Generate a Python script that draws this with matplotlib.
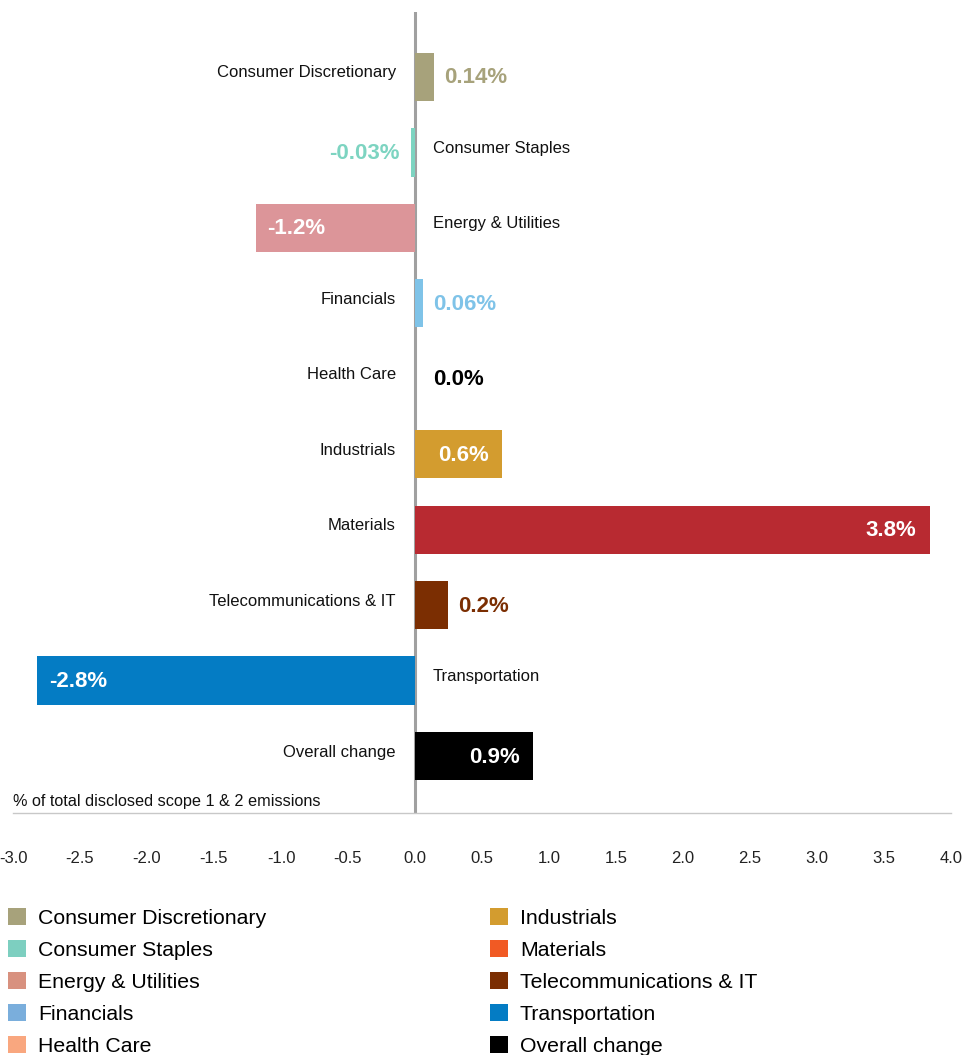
import matplotlib
matplotlib.use('Agg')
import matplotlib.pyplot as plt
from matplotlib.patches import Patch

plt.rcParams['font.family'] = ['Liberation Sans', 'DejaVu Sans']
plt.rcParams['axes.unicode_minus'] = False

# data
categories = ['Consumer Discretionary', 'Consumer Staples', 'Energy & Utilities',
              'Financials', 'Health Care', 'Industrials', 'Materials',
              'Telecommunications & IT', 'Transportation', 'Overall change']
values = [0.14, -0.03, -1.19, 0.06, 0.0, 0.65, 3.84, 0.25, -2.82, 0.88]
value_labels = ['0.14%', '-0.03%', '-1.2%', '0.06%', '0.0%', '0.6%', '3.8%',
                '0.2%', '-2.8%', '0.9%']
bar_colors = ['#a7a27b', '#7dd4c1', '#dc9599', '#7fc3e8', '#f9a77f', '#d39c2f',
              '#b82a31', '#7b2e02', '#047cc4', '#000000']
legend_colors = ['#a7a27b', '#7dcfc0', '#d8917f', '#7aaedc', '#f9a77f', '#d39c2f',
                 '#f15a24', '#7b2e02', '#047cc4', '#000000']
xticks = [-3.0, -2.5, -2.0, -1.5, -1.0, -0.5, 0.0, 0.5, 1.0, 1.5, 2.0, 2.5, 3.0, 3.5, 4.0]

fig = plt.figure(figsize=(9.64, 10.55), dpi=100)
ax = fig.add_axes([13/964, 242/1055, 938/964, 801/1055])

y = list(range(len(categories)))
ax.barh(y, values, height=0.64, color=bar_colors, zorder=2)
ax.axvline(0, color='#a0a0a0', lw=2.2, zorder=1)

ax.set_xlim(-3.0, 4.0)
ax.set_ylim(9.755, -0.86)
ax.set_xticks(xticks)
ax.set_xticklabels(['%.1f' % t for t in xticks], fontsize=12, color='#222222')
ax.tick_params(axis='x', length=0, pad=27.5)
ax.set_yticks([])
for s in ['top', 'right', 'left']:
    ax.spines[s].set_visible(False)
ax.spines['bottom'].set_color('#c8c8c8')
ax.spines['bottom'].set_linewidth(1)

px = 0.72  # points per pixel
for i, (cat, v, lab, col) in enumerate(zip(categories, values, value_labels, bar_colors)):
    # category name next to the zero line, on the side away from the bar
    if v >= 0:
        ax.annotate(cat, (0, i), xytext=(-19*px, 4*px), textcoords='offset points',
                    ha='right', va='center', fontsize=12, color='#111111')
    else:
        ax.annotate(cat, (0, i), xytext=(18*px, 4*px), textcoords='offset points',
                    ha='left', va='center', fontsize=12, color='#111111')
    # value label
    if abs(v) >= 0.5:
        if v > 0:
            off, ha = -13*px, 'right'
        else:
            off, ha = 12*px, 'left'
        tcol = 'white'
    else:
        if v > 0:
            off, ha = 10*px, 'left'
        elif v < 0:
            off, ha = -11*px, 'right'
        else:
            off, ha = 18*px, 'left'
        tcol = col if v != 0 else '#000000'
    ax.annotate(lab, (v, i), xytext=(off, -1*px), textcoords='offset points',
                ha=ha, va='center', fontsize=16, fontweight='bold', color=tcol)

ax.text(-3.0, 9.6, '% of total disclosed scope 1 & 2 emissions', fontsize=11.7,
        color='#111111', ha='left', va='center')

handles = [Patch(facecolor=c, edgecolor='none') for c in legend_colors]
fig.legend(handles, categories, loc='upper left', bbox_to_anchor=(8/964, 1 - 908/1055),
           ncol=2, frameon=False, fontsize=15.3, handlelength=0.85, handleheight=0.85,
           handletextpad=0.55, columnspacing=10.55, labelspacing=0.57,
           borderpad=0, borderaxespad=0)

fig.savefig('out.png', dpi=100)
